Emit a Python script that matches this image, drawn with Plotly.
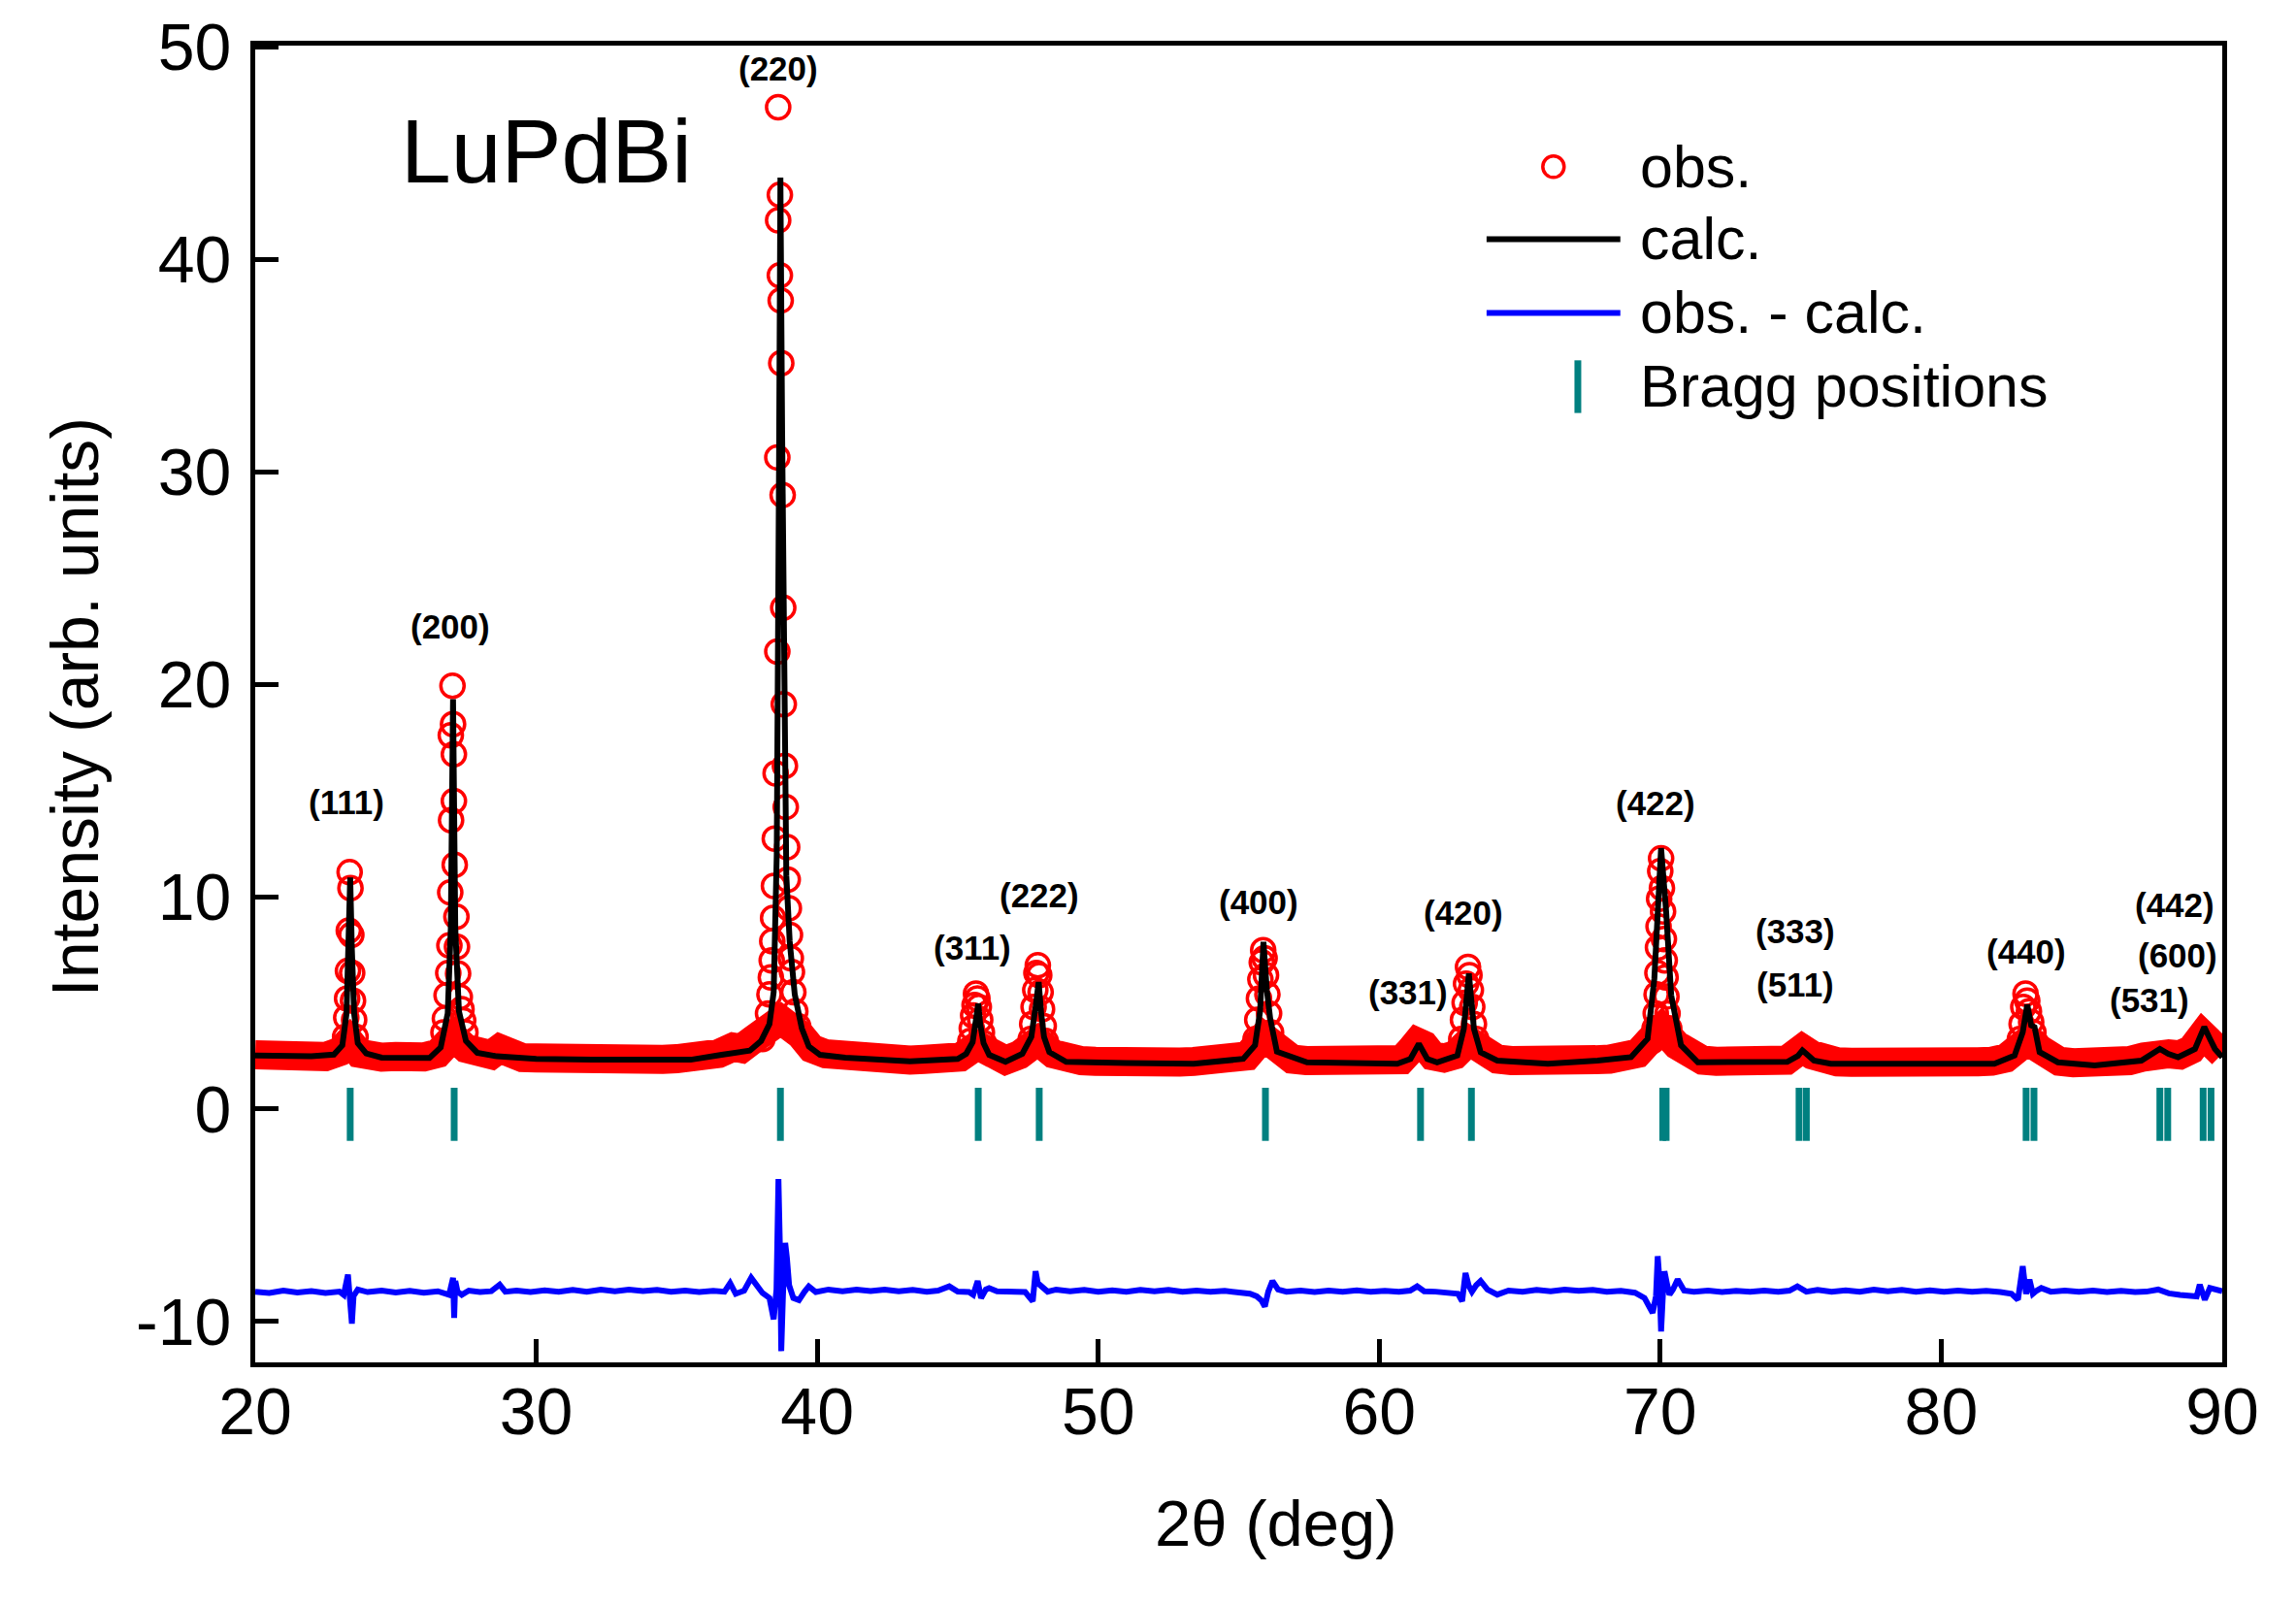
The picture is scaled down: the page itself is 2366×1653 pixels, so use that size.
import plotly.graph_objects as go

obs_bg_x = [20.0, 20.5, 21.0, 21.5, 22.0, 22.5, 23.0, 23.35, 23.7, 24.0, 24.5, 25.0, 25.5, 26.0,
            26.5, 27.05, 27.5, 28.0, 28.4, 28.7, 29.0, 29.5, 30.0, 30.5, 31.0, 31.5, 32.0, 32.5,
            33.0, 33.5, 34.0, 34.5, 35.0, 35.5, 36.0, 36.5, 37.0, 37.3, 37.7, 38.1, 38.7, 39.4,
            39.8, 40.3, 40.8, 41.3, 41.8, 42.3, 42.8, 43.3, 43.8, 44.3, 44.7, 45.1, 45.7, 46.2,
            46.7, 47.2, 47.85, 48.4, 48.9, 49.4, 49.9, 50.4, 50.9, 51.4, 51.9, 52.4, 52.9, 53.4,
            53.9, 54.4, 54.9, 55.3, 55.88, 56.4, 56.9, 57.4, 57.9, 58.4, 58.9, 59.4, 59.9, 60.4,
            60.8, 61.1, 61.35, 61.6, 61.9, 62.3, 62.7, 63.2, 63.7, 64.2, 64.7, 65.2, 65.7, 66.2,
            66.7, 67.2, 67.7, 68.2, 68.7, 69.2, 69.6, 70.05, 70.6, 71.0, 71.5, 72.0, 72.5, 73.0,
            73.5, 74.0, 74.5, 74.8, 75.05, 75.4, 75.8, 76.3, 76.8, 77.3, 77.8, 78.3, 78.8, 79.3,
            79.8, 80.3, 80.8, 81.3, 81.8, 82.3, 83.05, 83.7, 84.2, 84.7, 85.2, 85.7, 86.2, 86.7,
            87.2, 87.75, 88.1, 88.5, 88.9, 89.3, 89.6, 90.0]
obs_bg_y = [2.55, 2.50, 2.56, 2.48, 2.52, 2.47, 2.70, 3.20, 2.62, 2.50, 2.44, 2.47, 2.40, 2.45,
            2.62, 3.40, 2.85, 2.62, 2.55, 2.85, 2.55, 2.42, 2.40, 2.36, 2.40, 2.34, 2.38, 2.33,
            2.36, 2.32, 2.38, 2.34, 2.37, 2.36, 2.45, 2.62, 2.92, 2.85, 3.25, 3.70, 4.20, 3.50,
            2.85, 2.60, 2.50, 2.52, 2.42, 2.38, 2.32, 2.30, 2.34, 2.32, 2.50, 2.45, 3.00, 2.55,
            2.30, 2.55, 3.20, 2.60, 2.30, 2.28, 2.25, 2.30, 2.24, 2.27, 2.22, 2.26, 2.21, 2.24,
            2.22, 2.28, 2.32, 2.50, 3.40, 2.70, 2.35, 2.28, 2.25, 2.27, 2.22, 2.25, 2.20, 2.24,
            2.32, 2.75, 3.15, 3.00, 2.50, 2.40, 2.55, 3.20, 2.60, 2.35, 2.28, 2.24, 2.20, 2.22,
            2.25, 2.28, 2.32, 2.35, 2.45, 2.62, 3.20, 3.80, 3.00, 2.50, 2.30, 2.25, 2.22, 2.25,
            2.22, 2.24, 2.30, 2.60, 2.85, 2.55, 2.30, 2.22, 2.20, 2.24, 2.21, 2.25, 2.20, 2.23,
            2.20, 2.22, 2.19, 2.22, 2.25, 2.40, 3.20, 2.55, 2.25, 2.18, 2.15, 2.17, 2.20, 2.28,
            2.45, 2.75, 2.60, 2.55, 2.80, 3.50, 3.20, 2.60]

# --- observed pattern: individual points on the peaks ---
obs_pk_x = [23.20, 23.24, 23.27, 23.30, 23.33, 23.36, 23.39, 23.42, 23.45, 23.48, 23.52, 23.57,
            26.70, 26.75, 26.81, 26.87, 26.91, 26.94, 26.97, 26.96, 27.02, 27.04, 27.07, 27.07,
            27.10, 27.16, 27.18, 27.22, 27.28, 27.34, 27.40, 27.48,
            38.05, 38.18, 38.25, 38.30, 38.35, 38.38, 38.40, 38.43, 38.46, 38.49, 38.52, 38.58,
            38.58, 38.61, 38.61, 38.67, 38.67, 38.70, 38.72, 38.77, 38.79, 38.81, 38.85, 38.88,
            38.93, 38.95, 38.99, 39.03, 39.06, 39.10, 39.15, 39.22, 39.32, 39.45,
            45.45, 45.50, 45.55, 45.60, 45.65, 45.70, 45.75, 45.80, 45.86, 45.93,
            47.60, 47.65, 47.70, 47.76, 47.80, 47.85, 47.90, 47.95, 48.00, 48.06, 48.13,
            55.60, 55.66, 55.72, 55.77, 55.82, 55.87, 55.92, 55.97, 56.02, 56.08, 56.15, 56.25,
            62.92, 62.98, 63.04, 63.09, 63.16, 63.21, 63.26, 63.31, 63.37, 63.45,
            69.72, 69.80, 69.84, 69.87, 69.90, 69.92, 69.94, 69.96, 70.00, 70.03, 70.06, 70.10,
            70.13, 70.16, 70.19, 70.22, 70.26, 70.32, 70.42,
            82.80, 82.86, 82.92, 83.00, 83.06, 83.12, 83.20, 83.28, 83.38,
            89.20, 89.30, 89.40]
obs_pk_y = [3.4, 4.3, 5.2, 6.5, 8.4, 11.15, 10.4, 8.2, 6.4, 5.1, 4.2, 3.4,
            3.6, 4.25, 5.35, 6.4, 7.7, 10.2, 13.6, 17.6, 19.93, 18.12, 16.7, 14.5,
            11.5, 9.05, 7.64, 6.38, 5.27, 4.7, 4.17, 3.6,
            3.3, 3.7, 4.5, 5.4, 6.2, 7.0, 7.9, 9.0, 10.5, 12.73, 15.8, 21.54,
            30.68, 41.85, 47.17, 43.04, 39.25, 38.07, 35.12, 28.91, 23.6, 19.06, 16.16, 14.22,
            12.33, 10.8, 9.45, 8.2, 7.1, 6.45, 5.5, 4.6, 3.9, 3.4,
            3.2, 3.8, 4.4, 4.9, 5.43, 5.2, 4.8, 4.2, 3.6, 3.1,
            3.3, 4.0, 4.8, 5.6, 6.4, 6.77, 6.3, 5.5, 4.7, 3.9, 3.2,
            3.3, 4.2, 5.2, 6.1, 6.9, 7.48, 7.1, 6.3, 5.4, 4.5, 3.6, 3.0,
            3.3, 4.2, 5.0, 5.9, 6.69, 6.3, 5.6, 4.8, 4.0, 3.3,
            3.2, 3.8, 4.5, 5.4, 6.4, 7.6, 8.6, 9.9, 11.2, 11.8, 10.4, 9.3,
            8.0, 7.0, 6.2, 5.3, 4.5, 3.8, 3.2,
            3.3, 4.0, 4.8, 5.43, 5.1, 4.6, 4.1, 3.6, 3.1,
            3.2, 3.5, 3.35]

# --- calculated profile ---
calc_x = [20.0, 21.0, 22.0, 22.8, 23.1, 23.25, 23.32, 23.38, 23.44, 23.52, 23.65, 23.95, 24.5,
          25.5, 26.2, 26.6, 26.85, 26.96, 27.04, 27.12, 27.25, 27.5, 27.9, 28.6, 30.0, 32.0,
          34.0, 35.5, 36.6, 37.6, 38.0, 38.3, 38.45, 38.56, 38.64, 38.69, 38.75, 38.82, 38.9,
          39.02, 39.2, 39.45, 39.7, 40.1, 41.0, 43.3, 45.0, 45.3, 45.53, 45.66, 45.73, 45.8,
          45.92, 46.12, 46.7, 47.3, 47.62, 47.78, 47.88, 47.97, 48.07, 48.26, 48.86, 51.0,
          53.4, 55.16, 55.58, 55.76, 55.88, 56.0, 56.12, 56.36, 57.43, 60.64, 61.11, 61.41,
          61.71, 62.06, 62.78, 63.01, 63.19, 63.37, 63.61, 64.2, 66.0, 67.77, 68.96, 69.55,
          69.79, 70.03, 70.21, 70.39, 70.74, 71.34, 74.52, 74.9, 75.06, 75.2, 75.47, 76.07,
          81.89, 82.61, 82.9, 83.06, 83.2, 83.32, 83.5, 84.15, 85.46, 87.12, 87.78, 88.08,
          88.43, 89.03, 89.36, 89.56, 89.74, 90.0]
calc_y = [2.52, 2.50, 2.48, 2.56, 3.0, 4.5, 7.5, 10.9, 7.5, 4.5, 3.1, 2.62, 2.42,
          2.37, 2.40, 2.9, 4.5, 8.5, 19.3, 8.5, 4.6, 3.2, 2.65, 2.48, 2.36, 2.32,
          2.30, 2.32, 2.55, 2.75, 3.2, 4.0, 5.5, 12.0, 30.0, 43.86, 32.0, 18.0, 11.0,
          7.9, 5.4, 3.8, 2.95, 2.55, 2.42, 2.24, 2.36, 2.6, 3.15, 4.3, 4.96, 4.0,
          3.1, 2.55, 2.22, 2.6, 3.4, 4.9, 5.98, 4.5, 3.4, 2.68, 2.22, 2.17,
          2.13, 2.36, 3.0, 4.6, 7.87, 5.6, 4.25, 2.7, 2.2, 2.13, 2.36, 3.07,
          2.36, 2.2, 2.52, 3.78, 6.38, 3.78, 2.67, 2.28, 2.13, 2.28, 2.44, 3.31,
          6.14, 12.28, 9.29, 5.35, 3.0, 2.2, 2.22, 2.5, 2.76, 2.6, 2.28, 2.13,
          2.13, 2.52, 3.62, 4.91, 3.94, 3.86, 2.68, 2.2, 2.05, 2.28, 2.83, 2.6,
          2.44, 2.83, 3.86, 3.31, 2.83, 2.44]

# --- difference curve (obs. - calc., shifted) ---
diff_x = [20.0, 20.5, 21.0, 21.5, 22.0, 22.5, 23.0, 23.15, 23.3, 23.38, 23.44, 23.5, 23.65, 24.0,
          24.5, 25.0, 25.5, 26.0, 26.5, 26.9, 27.0, 27.04, 27.08, 27.12, 27.2, 27.35, 27.6, 28.0,
          28.4, 28.7, 28.9, 29.3, 29.8, 30.3, 30.8, 31.3, 31.8, 32.3, 32.8, 33.3, 33.8, 34.3,
          34.8, 35.3, 35.8, 36.3, 36.7, 36.9, 37.1, 37.4, 37.65, 37.85, 38.05, 38.3, 38.45,
          38.55, 38.62, 38.68, 38.72, 38.78, 38.86, 38.92, 39.0, 39.15, 39.35, 39.55, 39.7,
          39.95, 40.4, 40.9, 41.4, 41.9, 42.4, 42.9, 43.4, 43.9, 44.3, 44.7, 45.0, 45.4, 45.55,
          45.71, 45.83, 46.0, 46.12, 46.4, 46.9, 47.4, 47.67, 47.77, 47.85, 47.97, 48.2, 48.5,
          49.0, 49.5, 50.0, 50.5, 51.0, 51.5, 52.0, 52.5, 53.0, 53.5, 54.0, 54.5, 55.0, 55.4,
          55.64, 55.8, 55.93, 56.05, 56.2, 56.4, 56.7, 57.2, 57.7, 58.2, 58.7, 59.2, 59.7,
          60.2, 60.7, 61.1, 61.35, 61.6, 62.0, 62.4, 62.8, 62.95, 63.07, 63.18, 63.3, 63.45,
          63.61, 63.85, 64.2, 64.6, 65.1, 65.6, 66.1, 66.6, 67.1, 67.6, 68.1, 68.6, 69.1,
          69.44, 69.73, 69.85, 69.91, 69.97, 70.03, 70.1, 70.15, 70.25, 70.33, 70.45, 70.62,
          70.85, 71.2, 71.7, 72.2, 72.7, 73.2, 73.7, 74.2, 74.6, 74.88, 75.2, 75.6, 76.1,
          76.6, 77.1, 77.6, 78.1, 78.6, 79.1, 79.6, 80.1, 80.6, 81.1, 81.6, 82.1, 82.5,
          82.73, 82.9, 82.97, 83.02, 83.14, 83.26, 83.4, 83.56, 83.9, 84.4, 84.9, 85.4, 85.9,
          86.4, 86.9, 87.3, 87.72, 88.1, 88.5, 88.9, 89.09, 89.2, 89.3, 89.38, 89.56, 89.8,
          90.0]
diff_y = [-8.60, -8.66, -8.55, -8.64, -8.57, -8.66, -8.60, -8.75, -7.80, -9.00, -10.10, -8.80,
          -8.50, -8.62, -8.55, -8.64, -8.56, -8.65, -8.58, -8.75, -8.20, -7.95, -9.84, -8.10,
          -8.60, -8.75, -8.55, -8.62, -8.58, -8.27, -8.60, -8.55, -8.62, -8.54, -8.60, -8.52,
          -8.60, -8.50, -8.58, -8.50, -8.57, -8.52, -8.60, -8.55, -8.62, -8.56, -8.60, -8.20,
          -8.70, -8.55, -7.95, -8.30, -8.66, -8.90, -9.90, -8.50, -3.30, -7.00, -11.40, -8.80,
          -6.30, -7.00, -8.30, -8.90, -9.00, -8.60, -8.35, -8.62, -8.50, -8.58, -8.50, -8.57,
          -8.50, -8.58, -8.52, -8.60, -8.55, -8.35, -8.60, -8.62, -8.75, -8.10, -8.90, -8.50,
          -8.43, -8.58, -8.60, -8.62, -9.05, -7.64, -8.20, -8.35, -8.60, -8.50, -8.58, -8.52,
          -8.60, -8.54, -8.60, -8.52, -8.58, -8.52, -8.60, -8.55, -8.60, -8.56, -8.62, -8.70,
          -8.82, -9.00, -9.30, -8.60, -8.10, -8.50, -8.60, -8.55, -8.62, -8.55, -8.60, -8.54,
          -8.60, -8.56, -8.60, -8.55, -8.35, -8.58, -8.60, -8.62, -8.70, -9.05, -7.72, -8.30,
          -8.60, -8.30, -8.10, -8.50, -8.74, -8.55, -8.60, -8.52, -8.58, -8.50, -8.56, -8.52,
          -8.60, -8.56, -8.65, -8.90, -9.60, -8.80, -6.93, -8.00, -10.47, -8.60, -7.64, -8.30,
          -8.74, -8.50, -8.03, -8.55, -8.60, -8.55, -8.62, -8.56, -8.60, -8.55, -8.60, -8.55,
          -8.35, -8.60, -8.52, -8.60, -8.54, -8.60, -8.50, -8.58, -8.52, -8.60, -8.54, -8.60,
          -8.55, -8.60, -8.56, -8.62, -8.70, -8.98, -7.40, -8.20, -8.70, -8.03, -8.70, -8.55,
          -8.43, -8.60, -8.55, -8.60, -8.55, -8.62, -8.56, -8.62, -8.60, -8.50, -8.68, -8.75,
          -8.80, -8.82, -8.27, -8.70, -8.98, -8.43, -8.55, -8.58]

# --- Bragg reflection positions ---
bragg_pos = [23.38, 27.08, 38.69, 45.73, 47.90, 55.95, 61.47, 63.28, 70.09, 70.21,
             74.94, 75.20, 83.02, 83.30, 87.78, 88.06, 89.32, 89.60]

# --- (hkl) labels ---
peak_labels = ['(111)', '(200)', '(220)', '(311)', '(222)', '(400)', '(331)', '(420)',
               '(422)', '(333)', '(511)', '(440)', '(442)', '(600)', '(531)']
label_x = [23.23, 26.93, 38.61, 45.51, 47.91, 55.70, 61.02, 63.01,
           69.83, 74.79, 74.79, 83.03, 88.32, 88.41, 87.42]
label_y = [14.24, 22.5, 48.75, 7.37, 9.84, 9.53, 5.27, 9.0,
           14.2, 8.15, 5.63, 7.19, 9.37, 7.01, 4.9]

x_ticks = [20, 30, 40, 50, 60, 70, 80, 90]
y_ticks = [-10, 0, 10, 20, 30, 40, 50]
y_ticktext = ['-10', '0', '10', '20', '30', '40', '50']

legend_names = ['obs.', 'calc.', 'obs. - calc.', 'Bragg positions']

FONT = 'Liberation Sans, Arial, sans-serif'
TEAL = '#008080'

fig = go.Figure()

# solid band formed by the dense observed points
fig.add_trace(go.Scatter(
    x=obs_bg_x, y=obs_bg_y, mode='lines',
    line=dict(color='red', width=30),
    showlegend=False, hoverinfo='skip'
))
fig.add_trace(go.Scatter(
    x=obs_pk_x, y=obs_pk_y, mode='markers', name=legend_names[0],
    marker=dict(symbol='circle-open', size=24, color='red', line=dict(color='red', width=3.5)),
    showlegend=False
))
fig.add_trace(go.Scatter(
    x=calc_x, y=calc_y, mode='lines', name=legend_names[1],
    line=dict(color='black', width=6), showlegend=False
))
fig.add_trace(go.Scatter(
    x=diff_x, y=diff_y, mode='lines', name=legend_names[2],
    line=dict(color='blue', width=6), showlegend=False
))

bx, by = [], []
for p in bragg_pos:
    bx += [p, p, None]
    by += [1.0, -1.5, None]
fig.add_trace(go.Scatter(
    x=bx, y=by, mode='lines', name=legend_names[3],
    line=dict(color=TEAL, width=7), showlegend=False
))

annotations = []
for t, lx, ly in zip(peak_labels, label_x, label_y):
    annotations.append(dict(x=lx, y=ly, text='<b>' + t + '</b>', showarrow=False,
                            font=dict(family=FONT, size=35, color='black'),
                            xanchor='center', yanchor='middle', yshift=5))

annotations.append(dict(x=25.11, y=44.95, text='LuPdBi', showarrow=False,
                        font=dict(family=FONT, size=93, color='black'),
                        xanchor='left', yanchor='middle', yshift=3))

# axis titles
annotations.append(dict(x=0.519, y=-0.122, xref='paper', yref='paper', text='2θ (deg)',
                        showarrow=False, font=dict(family=FONT, size=67, color='black'),
                        xanchor='center', yanchor='middle'))
annotations.append(dict(x=-0.0918, y=0.498, xref='paper', yref='paper',
                        text='Intensity (arb. units)', textangle=-90,
                        showarrow=False, font=dict(family=FONT, size=68, color='black'),
                        xanchor='center', yanchor='middle'))

# legend (drawn by hand to match the long line keys)
leg_y = [0.908, 0.853, 0.797, 0.741]
for name, ly in zip(legend_names, leg_y):
    annotations.append(dict(x=0.703, y=ly, xref='paper', yref='paper', text=name,
                            showarrow=False, font=dict(family=FONT, size=61, color='black'),
                            xanchor='left', yanchor='middle'))

shapes = [
    dict(type='circle', xref='paper', yref='paper', xsizemode='pixel', ysizemode='pixel',
         xanchor=0.660, yanchor=leg_y[0], x0=-11, x1=11, y0=-11, y1=11,
         line=dict(color='red', width=3.5)),
    dict(type='line', xref='paper', yref='paper', x0=0.626, x1=0.694, y0=leg_y[1], y1=leg_y[1],
         line=dict(color='black', width=6)),
    dict(type='line', xref='paper', yref='paper', x0=0.626, x1=0.694, y0=leg_y[2], y1=leg_y[2],
         line=dict(color='blue', width=6)),
    dict(type='line', xref='paper', yref='paper', x0=0.6724, x1=0.6724, y0=0.721, y1=0.761,
         line=dict(color=TEAL, width=7)),
]

axis_common = dict(
    showgrid=False, zeroline=False, showline=True, linecolor='black', linewidth=5,
    mirror=True, ticks='inside', ticklen=24, tickwidth=5, tickcolor='black',
    tickfont=dict(family=FONT, size=68, color='black'),
    ticklabeloverflow='allow', automargin=False,
)

fig.update_layout(
    width=2350, height=1637,
    margin=dict(l=255, r=68, t=39, b=241, autoexpand=False),
    paper_bgcolor='white', plot_bgcolor='white',
    xaxis=dict(range=[20, 90], tickvals=x_ticks, ticklabelstandoff=-13, **axis_common),
    yaxis=dict(range=[-11.93, 50.07], tickvals=y_ticks, ticktext=y_ticktext,
               ticklabelstandoff=6, **axis_common),
    annotations=annotations,
    shapes=shapes,
    showlegend=False,
)

fig.write_html('out.html')
